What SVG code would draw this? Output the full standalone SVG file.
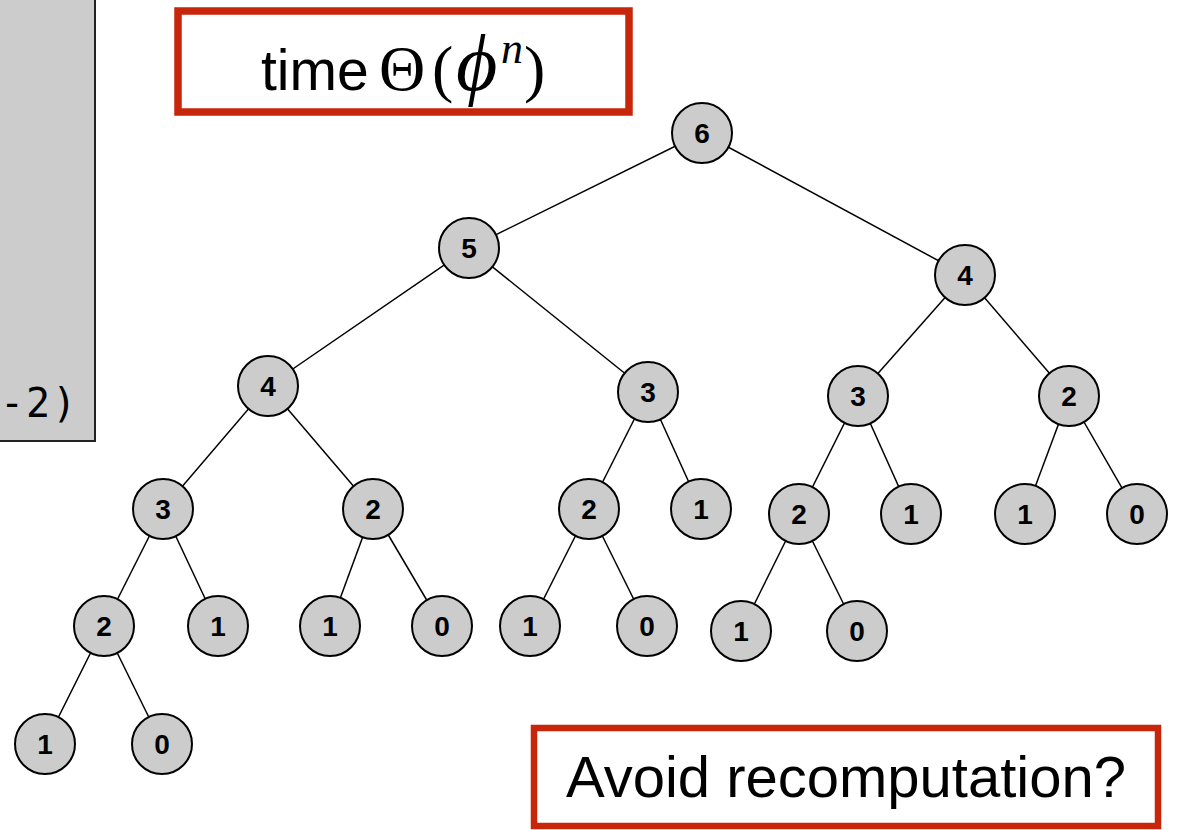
<svg xmlns="http://www.w3.org/2000/svg" width="1180" height="830" viewBox="0 0 1180 830">
<style>
.n circle{fill:#cccccc;stroke:#000;stroke-width:2}
.n text{font-family:"Liberation Sans",Arial,sans-serif;font-size:28px;font-weight:bold;text-anchor:middle;fill:#000}
#edges line{stroke:#000;stroke-width:1.5}
.red{fill:#fff;stroke:#c8260a}
.big{font-family:"Liberation Sans",Arial,sans-serif;fill:#000}
.ser{font-family:"Liberation Serif","Times New Roman",serif}
</style>
<rect width="1180" height="830" fill="#fff"/>
<g id="codebox">
<rect x="-10" y="-10" width="105" height="451" fill="#cccccc" stroke="#222" stroke-width="2"/>
<text x="0" y="417" font-family="DejaVu Sans Mono,monospace" font-size="40" letter-spacing="2" fill="#000">-2)</text>
</g>
<g id="timebox">
<rect class="red" x="178" y="11" width="451" height="101" stroke-width="7.5"/>
<text class="big" x="261" y="90" font-size="57">time<tspan class="ser" x="379" font-size="64">Θ</tspan><tspan class="ser" x="432" font-size="64">(</tspan><tspan class="ser" x="456" font-size="80" font-style="italic">ϕ</tspan><tspan class="ser" x="501" y="63" font-size="44" font-style="italic">n</tspan><tspan class="ser" x="524" y="90" font-size="64">)</tspan></text>
</g>
<g id="avoidbox">
<rect class="red" x="534" y="728" width="624" height="98" stroke-width="6.5"/>
<text class="big" x="846" y="797" font-size="58" text-anchor="middle">Avoid recomputation?</text>
</g>
<g id="edges">
<line x1="702" y1="133" x2="469" y2="248"/>
<line x1="702" y1="133" x2="965" y2="275"/>
<line x1="469" y1="248" x2="268" y2="386"/>
<line x1="469" y1="248" x2="648" y2="392"/>
<line x1="965" y1="275" x2="858" y2="396"/>
<line x1="965" y1="275" x2="1069" y2="396"/>
<line x1="268" y1="386" x2="163" y2="509"/>
<line x1="268" y1="386" x2="373" y2="509"/>
<line x1="648" y1="392" x2="589" y2="509"/>
<line x1="648" y1="392" x2="701" y2="509"/>
<line x1="858" y1="396" x2="799" y2="514"/>
<line x1="858" y1="396" x2="911" y2="514"/>
<line x1="1069" y1="396" x2="1025" y2="514"/>
<line x1="1069" y1="396" x2="1137" y2="514"/>
<line x1="163" y1="509" x2="104" y2="626"/>
<line x1="163" y1="509" x2="218" y2="626"/>
<line x1="373" y1="509" x2="330" y2="626"/>
<line x1="373" y1="509" x2="442" y2="626"/>
<line x1="589" y1="509" x2="530" y2="626"/>
<line x1="589" y1="509" x2="647" y2="626"/>
<line x1="799" y1="514" x2="741" y2="631"/>
<line x1="799" y1="514" x2="857" y2="631"/>
<line x1="104" y1="626" x2="45" y2="744"/>
<line x1="104" y1="626" x2="162" y2="744"/>
</g>
<g id="n6" class="n"><circle cx="702" cy="133" r="30"/><text x="702" y="143">6</text></g>
<g id="n5" class="n"><circle cx="469" cy="248" r="30"/><text x="469" y="258">5</text></g>
<g id="n4r" class="n"><circle cx="965" cy="275" r="30"/><text x="965" y="285">4</text></g>
<g id="n4l" class="n"><circle cx="268" cy="386" r="30"/><text x="268" y="396">4</text></g>
<g id="n3a" class="n"><circle cx="648" cy="392" r="30"/><text x="648" y="402">3</text></g>
<g id="n3b" class="n"><circle cx="858" cy="396" r="30"/><text x="858" y="406">3</text></g>
<g id="n2a" class="n"><circle cx="1069" cy="396" r="30"/><text x="1069" y="406">2</text></g>
<g id="n3c" class="n"><circle cx="163" cy="509" r="30"/><text x="163" y="519">3</text></g>
<g id="n2b" class="n"><circle cx="373" cy="509" r="30"/><text x="373" y="519">2</text></g>
<g id="n2c" class="n"><circle cx="589" cy="509" r="30"/><text x="589" y="519">2</text></g>
<g id="n1a" class="n"><circle cx="701" cy="509" r="30"/><text x="701" y="519">1</text></g>
<g id="n2d" class="n"><circle cx="799" cy="514" r="30"/><text x="799" y="524">2</text></g>
<g id="n1b" class="n"><circle cx="911" cy="514" r="30"/><text x="911" y="524">1</text></g>
<g id="n1c" class="n"><circle cx="1025" cy="514" r="30"/><text x="1025" y="524">1</text></g>
<g id="n0a" class="n"><circle cx="1137" cy="514" r="30"/><text x="1137" y="524">0</text></g>
<g id="n2e" class="n"><circle cx="104" cy="626" r="30"/><text x="104" y="636">2</text></g>
<g id="n1d" class="n"><circle cx="218" cy="626" r="30"/><text x="218" y="636">1</text></g>
<g id="n1e" class="n"><circle cx="330" cy="626" r="30"/><text x="330" y="636">1</text></g>
<g id="n0b" class="n"><circle cx="442" cy="626" r="30"/><text x="442" y="636">0</text></g>
<g id="n1f" class="n"><circle cx="530" cy="626" r="30"/><text x="530" y="636">1</text></g>
<g id="n0c" class="n"><circle cx="647" cy="626" r="30"/><text x="647" y="636">0</text></g>
<g id="n1g" class="n"><circle cx="741" cy="631" r="30"/><text x="741" y="641">1</text></g>
<g id="n0d" class="n"><circle cx="857" cy="631" r="30"/><text x="857" y="641">0</text></g>
<g id="n1h" class="n"><circle cx="45" cy="744" r="30"/><text x="45" y="754">1</text></g>
<g id="n0e" class="n"><circle cx="162" cy="744" r="30"/><text x="162" y="754">0</text></g>
</svg>
